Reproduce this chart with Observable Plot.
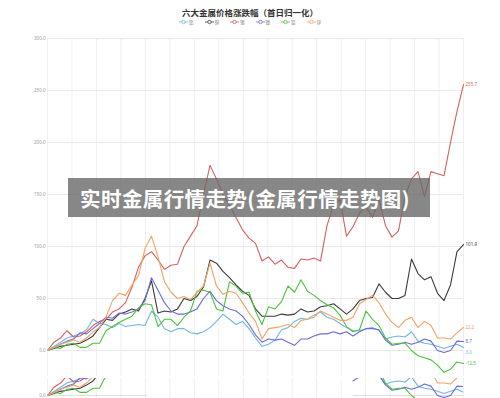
<!DOCTYPE html>
<html><head><meta charset="utf-8">
<script src="https://cdn.jsdelivr.net/npm/d3@7"></script>
<script src="https://cdn.jsdelivr.net/npm/@observablehq/plot@0.6"></script>
<style>
body{margin:0;background:#fff;font-family:"Noto Sans CJK SC","Noto Sans",sans-serif;}
#wrap{width:500px;height:398px;position:relative;overflow:hidden;}
#head{height:30px;position:relative;}
#title{position:absolute;top:7px;left:0;width:500px;text-align:center;font-size:8.5px;font-weight:bold;color:#333;line-height:11px;}
#legend{position:absolute;top:19px;left:0;width:500px;display:flex;justify-content:center;gap:11px;height:6px;align-items:center;}
.item{display:flex;align-items:center;font-size:4.5px;color:#777;line-height:6px;}
.item svg{margin-right:1px;}
#main svg,#strip svg{display:block;}
#strip{margin-top:2px;}
#banner{position:absolute;left:68px;top:178px;width:362px;height:39px;box-sizing:border-box;padding-right:8px;background:rgba(105,105,105,0.8);color:#fff;font-weight:bold;font-size:20.5px;letter-spacing:0.4px;display:flex;align-items:center;justify-content:center;}
</style></head>
<body>
<div id="wrap">
  <div id="head"><div id="title"></div><div id="legend"></div></div>
  <div id="main"></div>
  <div id="strip"></div>
  <div id="banner"></div>
</div>
<script>
const titleText = "六大金属价格涨跌幅（首日归一化）";
const bannerText = "实时金属行情走势(金属行情走势图)";
const names = ["铝","铜","锡","镍","铅","锌"];
const colors = ["#70b6e6","#3b3b3b","#d85f5c","#6c6cd8","#4cc23c","#f2a266"];
const yTicks = [0,50,100,150,200,250,300];

const alu = [0,4,8,12,14,16,20,30,26,25,22,26,23,24,25,24,38,32,21,18,21,21,17,16,18,22,28,35,30,25,28,21,12,4,6,10,20,22,28,31,30,34,37,32,30,26,22,19,19,21,22,19,11,13,14,13,18,9,7,6,4,2,4,6,3];
const copper = [0,2,4,5,6,7,10,14,22,30,29,35,37,40,38,50,67,36,38,37,40,50,48,52,61,87,84,76,70,63,57,53,40,33,33,33,35,34,35,40,37,38,42,43,45,40,35,40,48,50,51,64,56,50,50,53,88,74,68,71,55,48,63,95,101.9];
const tin = [0,8,12,19,13,14,18,24,28,30,37,40,46,61,80,91,95,87,78,82,83,100,110,120,150,178,165,150,140,128,116,108,103,86,90,83,87,80,79,88,87,89,86,120,140,145,110,119,132,138,128,145,120,109,115,148,165,172,148,172,170,168,200,230,255.7];
const nickel = [0,3,6,9,11,17,16,21,26,32,31,36,35,37,40,48,70,58,46,38,35,35,37,40,50,57,48,43,40,38,33,25,15,8,11,10,11,8,5,11,11,14,16,16,18,16,18,14,18,21,21,20,10,5,6,8,6,8,11,9,0,-2,0,9,8.7];
const lead = [0,3,2,6,7,3,3,7,7,19,23,27,30,33,41,45,44,23,30,30,24,32,38,57,58,56,40,38,66,62,55,56,38,25,42,40,47,62,56,68,57,53,48,44,41,34,23,18,20,38,30,24,12,6,7,7,0,-5,-7,-9,-14,-21,-18,-11,-12.5];
const zinc = [0,3,6,8,10,8,12,18,22,32,48,55,53,63,72,98,110,90,66,56,50,52,49,56,62,84,62,54,57,55,46,36,28,11,21,22,23,25,22,29,30,32,38,35,32,29,29,32,45,49,53,46,35,27,22,29,32,22,28,24,12,12,11,17,22.2];

const seriesVals = [alu, copper, tin, nickel, lead, zinc];
const rows = [];
seriesVals.forEach((arr, k) => arr.forEach((v, i) => rows.push({s: names[k], i, v})));
const ends = seriesVals.map((arr, k) => ({s: names[k], i: arr.length - 1, v: arr[arr.length - 1], label: arr[arr.length - 1].toFixed(1)}));
const nLast = alu.length - 1;
const xGrid = d3.range(18).map(k => k * nLast / 17);

document.getElementById("title").textContent = titleText;
document.getElementById("banner").textContent = bannerText;

// legend
const leg = document.getElementById("legend");
names.forEach((n, k) => {
  const it = document.createElement("div");
  it.className = "item";
  it.innerHTML = `<svg width="9" height="6"><line x1="0" x2="9" y1="3" y2="3" stroke="${colors[k]}" stroke-width="0.8"/><circle cx="4.5" cy="3" r="1.7" fill="#fff" stroke="${colors[k]}" stroke-width="0.8"/></svg><span>${n}</span>`;
  leg.appendChild(it);
});

const color = {domain: names, range: colors};

const main = Plot.plot({
  width: 500, height: 346,
  marginLeft: 47, marginRight: 37, marginTop: 8, marginBottom: 0,
  x: {domain: [0, nLast], axis: null},
  y: {domain: [-25, 300], axis: null},
  color,
  style: {fontFamily: "'Noto Sans', sans-serif", background: "transparent"},
  marks: [
    Plot.ruleY(yTicks, {stroke: "#e3e3e3", strokeWidth: 0.8}),
    Plot.ruleX(xGrid, {y1: -25, y2: 300, stroke: "#ebebeb", strokeWidth: 0.8}),
    Plot.axisY(yTicks, {tickSize: 0, tickPadding: 2, tickFormat: d => d.toFixed(1), fontSize: 4.5, fill: "#999", label: null}),
    Plot.line(rows, {x: "i", y: "v", z: "s", stroke: "s", strokeWidth: 1.1}),
    Plot.text(ends.filter(d => d.s !== "铝"), {x: "i", y: "v", text: "label", fill: "s", textAnchor: "start", dx: 2, fontSize: 4.5}),
    Plot.text(ends.filter(d => d.s === "铝"), {x: "i", y: "v", text: "label", fill: "s", textAnchor: "start", dx: 2, dy: 5, fontSize: 4.5})
  ]
});
document.getElementById("main").appendChild(main);

// bottom strip (repeated low band of the chart)
const leftEnd = 15.4, rightStart = 47;
const stripRows = rows.filter(d => d.i <= 16 || d.i >= rightStart).map(d => ({...d, seg: d.s + (d.i <= 16 ? "a" : "b")}));
const strip = Plot.plot({
  width: 500, height: 20,
  marginLeft: 47, marginRight: 37, marginTop: 0, marginBottom: 0,
  x: {domain: [0, nLast], axis: null},
  y: {domain: [-2.88, 16.35], axis: null},
  color,
  style: {fontFamily: "'Noto Sans', sans-serif", background: "transparent"},
  marks: [
    Plot.ruleX(xGrid, {stroke: "#ebebeb", strokeWidth: 0.8}),
    Plot.ruleY([0], {x1: 0, x2: leftEnd, stroke: "#d8d8d8", strokeWidth: 0.8}),
    Plot.ruleY([0], {x1: rightStart, x2: nLast, stroke: "#d8d8d8", strokeWidth: 0.8}),
    Plot.axisY([0], {tickSize: 0, tickPadding: 2, tickFormat: d => d.toFixed(1), fontSize: 4.5, fill: "#999", label: null}),
    Plot.line(stripRows.filter(d => d.i <= leftEnd || d.i >= rightStart), {x: "i", y: "v", z: "seg", stroke: "s", strokeWidth: 1.1, clip: true})
  ]
});
document.getElementById("strip").appendChild(strip);
</script>
</body></html>
